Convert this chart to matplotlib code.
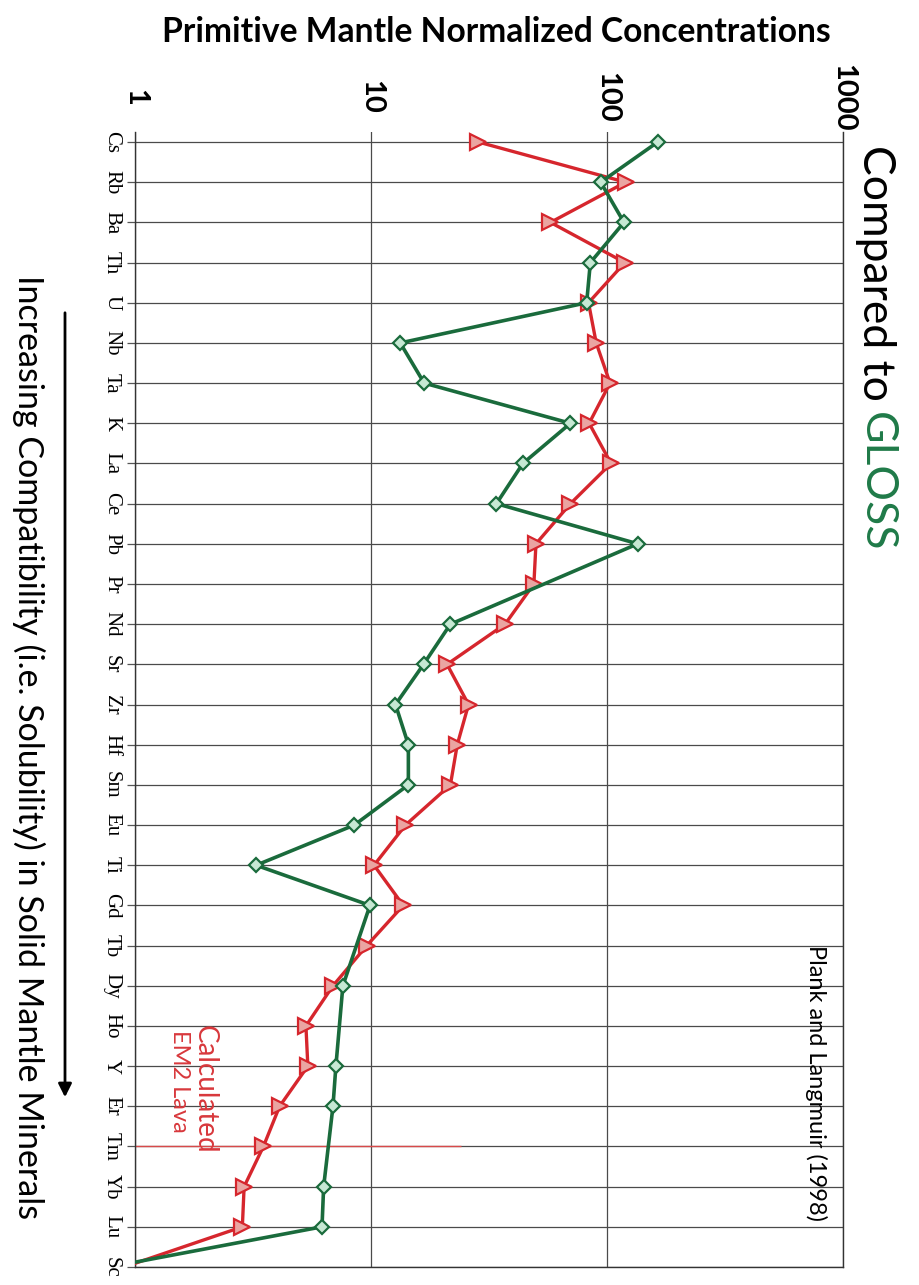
import numpy as np
import matplotlib
matplotlib.use("Agg")
import matplotlib.pyplot as plt
from matplotlib.patches import FancyArrowPatch
from matplotlib.ticker import NullLocator

# Trace elements ordered by increasing compatibility
elements = ["Cs", "Rb", "Ba", "Th", "U", "Nb", "Ta", "K", "La", "Ce", "Pb", "Pr",
            "Nd", "Sr", "Zr", "Hf", "Sm", "Eu", "Ti", "Gd", "Tb", "Dy", "Ho", "Y",
            "Er", "Tm", "Yb", "Lu", "Sc"]

# Primitive-mantle normalized concentrations
em2_lava = [28.5, 120, 57.6, 119, 83.5, 90, 103, 84, 104, 70, 50, 49,
            37, 21, 25.9, 23.2, 21.7, 14, 10.3, 13.7, 9.6, 6.9, 5.3, 5.4,
            4.1, 3.5, 2.9, 2.85, 0.9]
nan = np.nan
gloss = [164, 94, 118, 85, 82, 13.3, 16.8, 70, 44, 34, 135, nan,
         21.7, 16.7, 12.7, 14.4, 14.4, 8.5, 3.26, 9.9, nan, 7.6, nan, 7.1,
         6.9, nan, 6.3, 6.2, 0.78]

x_ticks = [1, 10, 100, 1000]
x_tick_labels = ["1", "10", "100", "1000"]

W, H = 920, 1285


def px(x, y):
    return x / W, 1 - y / H


fig = plt.figure(figsize=(W / 100, H / 100), dpi=100)
fig.patch.set_facecolor("white")

ax = fig.add_axes([135 / W, 18 / H, (843 - 135) / W, (1267 - 132) / H])
ax.set_xscale("log")
ax.set_xlim(1, 1000)
ax.set_ylim(len(elements) - 1, -0.25)

ypos = np.arange(len(elements))

# x axis (concentration) along the top, labels turned sideways
ax.xaxis.tick_top()
ax.set_xticks(x_ticks, labels=x_tick_labels)
ax.xaxis.set_minor_locator(NullLocator())
ax.tick_params(axis="x", which="both", length=0, pad=25, labelsize=21,
               labelrotation=-90)
for lbl in ax.get_xticklabels():
    lbl.set_va("center")
    lbl.set_family("Lato")
    lbl.set_fontweight("bold")

# element names down the left side
ax.set_yticks(ypos, labels=elements)
ax.tick_params(axis="y", length=6, color="#555555", width=0.9, pad=4,
               labelsize=15, labelrotation=-90)
for lbl in ax.get_yticklabels():
    lbl.set_va("center")
    lbl.set_family("Liberation Serif")

ax.grid(True, which="major", color="#4a4a4a", lw=0.9)
ax.set_axisbelow(True)
for side in ("left", "right", "bottom"):
    ax.spines[side].set_color("#333333")
    ax.spines[side].set_linewidth(1.0)
ax.spines["top"].set_visible(False)

# faint red highlight along the Tm row
ax.hlines(elements.index("Tm"), 1, 24, color="#d84a4a", lw=1.0, zorder=1.5)

red = "#d6262d"
green = "#1a6b3c"

ax.plot(em2_lava, ypos, color=red, lw=2.4, marker=">", ms=11,
        mfc="#eaa5a2", mec=red, mew=1.6, zorder=3)

g = np.array(gloss, dtype=float)
ok = np.isfinite(g)
ax.plot(g[ok], ypos[ok], color=green, lw=2.6, marker="D", ms=7,
        mfc="#c6e8d3", mec=green, mew=1.6, zorder=4)

# titles and annotations
fig.text(*px(496, 32), "Primitive Mantle Normalized Concentrations",
         ha="center", va="center", fontsize=24.2, family="Lato",
         fontweight="bold")

t1 = fig.text(*px(876, 145), "Compared to ", rotation=-90, ha="center",
              va="top", fontsize=32, family="Lato")
fig.canvas.draw()
bb = t1.get_window_extent()
fig.text(*px(876, H - bb.y0), "GLOSS", rotation=-90, ha="center", va="top",
         fontsize=32, family="Lato", color="#1f7a48")

fig.text(*px(816, 945), "Plank and Langmuir (1998)", rotation=-90,
         ha="center", va="top", fontsize=17, family="Lato")

fig.text(*px(205, 1025), "Calculated", rotation=-90, ha="center", va="top",
         fontsize=20, family="Lato", color="#d8383c")
fig.text(*px(180, 1030), "EM2 Lava", rotation=-90, ha="center", va="top",
         fontsize=17, family="Lato", color="#d8383c")

fig.text(*px(29, 275),
         "Increasing Compatibility (i.e. Solubility) in Solid Mantle Minerals",
         rotation=-90, ha="center", va="top", fontsize=24.5, family="Lato")

arrow = FancyArrowPatch(px(65, 310), px(65, 1100), transform=fig.transFigure,
                        arrowstyle="-|>", mutation_scale=20, lw=2,
                        color="black")
fig.add_artist(arrow)

fig.savefig("out.png", dpi=100)
